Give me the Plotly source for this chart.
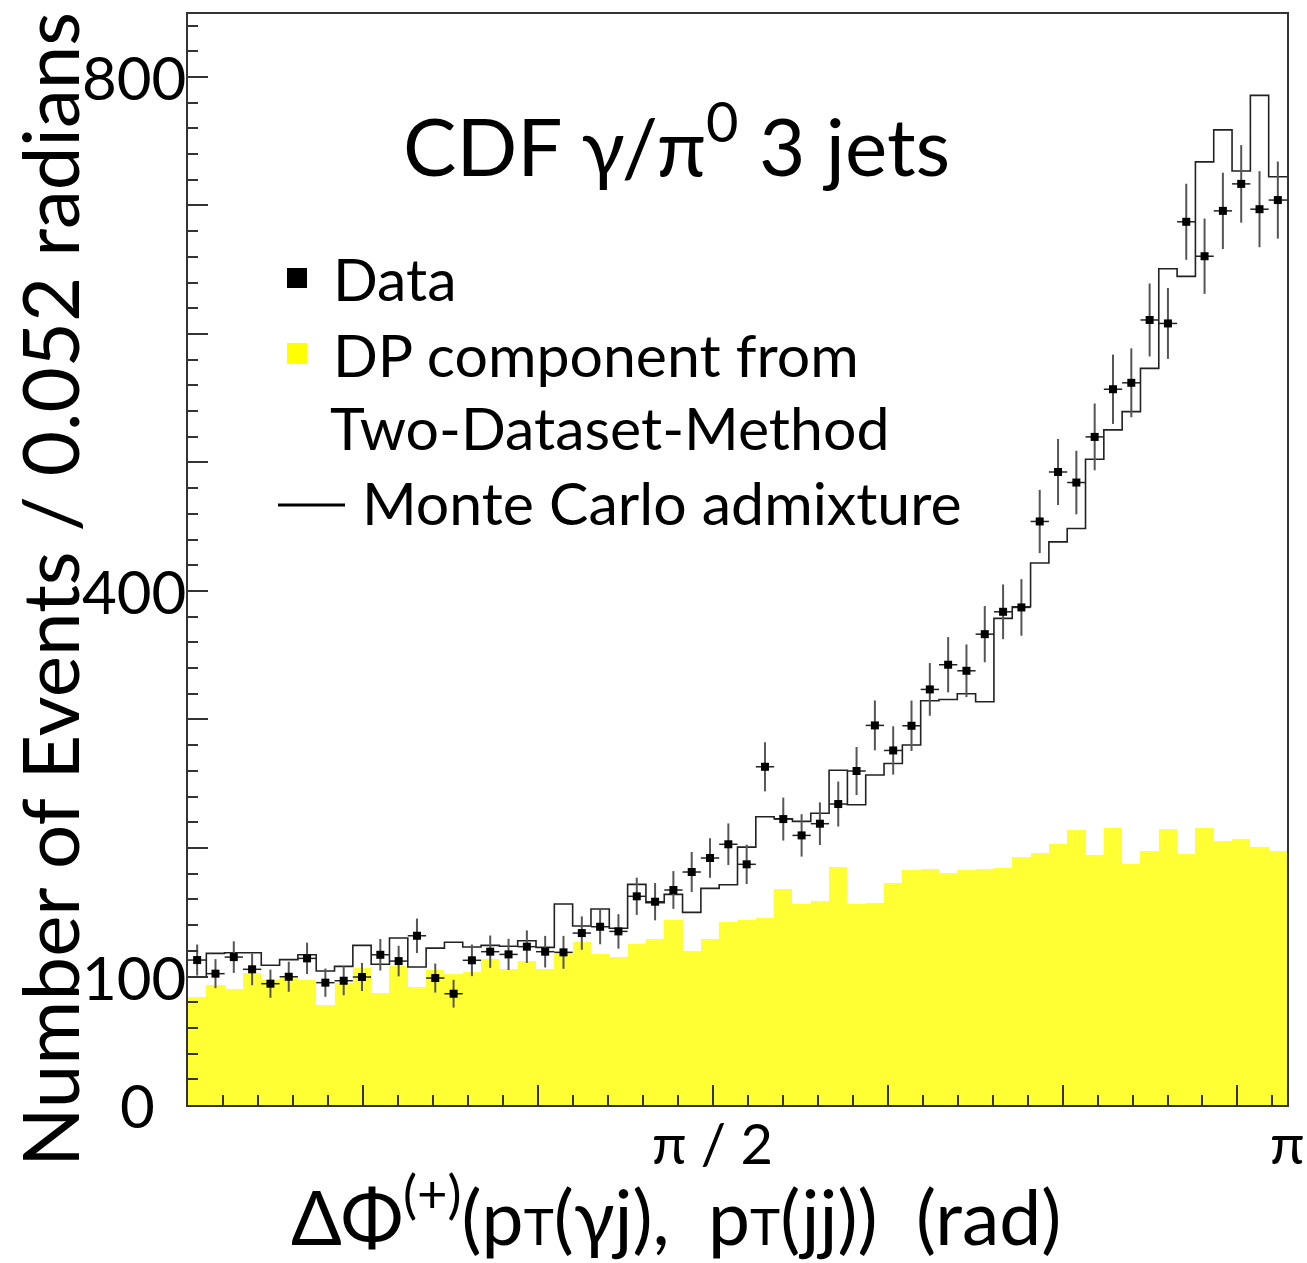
import numpy as np
import plotly.graph_objects as go

# ---------------- data ----------------
n_bins = 60
x_min, x_max = 0.0, np.pi

data_counts = [112.8, 102.2, 115.1, 105.6, 94.4, 99.8, 114.1, 95.2, 96.7, 99.6,
               116.9, 112.0, 131.7, 98.8, 86.6, 112.6, 119.3, 117.2, 123.2, 119.3,
               118.8, 133.8, 138.7, 135.1, 162.4, 158.2, 167.3, 181.3, 192.2, 202.9,
               187.3, 263.2, 222.5, 209.8, 218.9, 234.2, 259.9, 295.4, 275.9, 295.1,
               323.4, 342.6, 337.9, 366.4, 383.8, 387.2, 454.1, 492.6, 484.4, 519.9,
               557.0, 562.0, 610.9, 608.2, 687.3, 660.5, 695.8, 716.8, 697.1, 704.2]

data_errors = [12.1, 11.3, 12.3, 12.4, 11.0, 11.7, 12.2, 11.0, 11.3, 10.9,
               12.3, 11.9, 13.4, 11.3, 10.8, 12.3, 12.6, 12.1, 12.7, 12.3,
               12.8, 13.0, 13.6, 13.4, 14.5, 14.5, 14.7, 15.6, 15.4, 16.2,
               15.3, 19.1, 16.7, 16.5, 16.6, 17.5, 18.7, 19.4, 18.8, 19.6,
               20.5, 21.5, 20.5, 21.9, 21.3, 22.0, 24.6, 25.7, 24.7, 26.0,
               27.0, 26.8, 28.4, 27.6, 29.6, 29.3, 29.7, 30.2, 29.6, 30.0]

mc_counts = [99.5, 118.0, 118.5, 118.5, 108.7, 113.1, 116.9, 104.3, 107.9, 124.2,
             109.5, 129.9, 107.4, 122.1, 126.6, 122.9, 124.2, 123.5, 127.8, 122.7,
             156.4, 139.3, 152.5, 137.5, 171.7, 157.4, 163.9, 149.9, 168.6, 171.4,
             200.7, 224.3, 222.8, 220.7, 227.0, 260.5, 233.6, 256.8, 265.8, 280.1,
             314.6, 315.6, 320.0, 313.8, 378.7, 387.7, 421.8, 438.2, 448.6, 502.5,
             525.4, 539.6, 573.2, 650.8, 644.8, 733.9, 758.8, 726.8, 785.7, 722.3]

dp_counts = [83.8, 93.4, 90.0, 102.9, 97.0, 99.3, 97.3, 77.8, 94.7, 106.8,
             87.4, 108.1, 92.1, 105.0, 101.9, 103.5, 113.6, 105.8, 112.3, 105.6,
             118.5, 126.6, 117.5, 115.4, 125.5, 128.9, 144.2, 120.1, 129.2, 142.6,
             143.9, 145.5, 167.9, 156.6, 158.4, 185.6, 156.6, 157.5, 172.8, 183.0,
             183.7, 180.6, 182.9, 183.7, 184.5, 192.9, 196.0, 203.4, 214.2, 194.8,
             215.5, 187.8, 197.4, 214.8, 195.3, 215.5, 205.7, 207.0, 201.0, 197.9]

y_label_vals = [0, 100, 400, 800]
y_label_text = ["0", "100", "400", "800"]
x_label_vals = [1.5, np.pi]
x_label_text = ["\u03c0 / 2", "\u03c0"]

title_text = "CDF \u03b3/\u03c0<sup>0</sup> 3 jets"
x_title = ("\u0394\u03a6<sup>(+)</sup>(p<span style=\"font-size:51px\">T</span>(\u03b3j),  "
           "p<span style=\"font-size:51px\">T</span>(jj))  (rad)")
y_title = "Number of Events / 0.052 radians"
legend_texts = ["Data", "DP component from", "Two-Dataset-Method", "Monte Carlo admixture"]

# ---------------- derived binning ----------------
edges = np.linspace(x_min, x_max, n_bins + 1)
centers = 0.5 * (edges[:-1] + edges[1:])
bw = edges[1] - edges[0]

W, H = 1307, 1263
ML, MR, MT, MB = 188, 20, 14, 158
PW, PH = W - ML - MR, H - MT - MB
FONT = "Lato"


def px(xp):
    return (xp - ML) / PW


def py(yp):
    return (H - MB - yp) / PH


fig = go.Figure()

# DP component (yellow filled histogram)
fig.add_trace(go.Bar(x=centers, y=dp_counts, width=bw,
                     marker=dict(color="#ffff33", line=dict(width=0)),
                     showlegend=False))

# Monte Carlo admixture (step line)
fig.add_trace(go.Scatter(x=edges, y=list(mc_counts) + [mc_counts[-1]],
                         mode="lines", line=dict(shape="hv", color="#222222", width=1.6),
                         showlegend=False))

# Data points
fig.add_trace(go.Scatter(x=centers, y=data_counts, mode="markers",
                         marker=dict(symbol="square", size=8, color="black"),
                         error_y=dict(type="data", array=data_errors, visible=True,
                                      color="#555555", thickness=2, width=0),
                         error_x=dict(type="constant", value=bw / 2, visible=True,
                                      color="#222222", thickness=1.5, width=0),
                         showlegend=False))

annotations = []
for v, t in zip(y_label_vals, y_label_text):
    annotations.append(dict(x=0, xref="paper", y=v, yref="y", text=t, showarrow=False,
                            xanchor="right", yanchor="middle",
                            xshift=0 if t != "0" else -31,
                            font=dict(family=FONT, size=60, color="black")))
for v, t in zip(x_label_vals, x_label_text):
    annotations.append(dict(x=v, xref="x", y=0, yref="paper", text=t, showarrow=False,
                            xanchor="center", yanchor="middle", yshift=-37,
                            font=dict(family=FONT, size=56, color="black")))

# axis titles
annotations.append(dict(x=px(49), xref="paper", y=py(590), yref="paper", text=y_title,
                        textangle=-90, showarrow=False, xanchor="center", yanchor="middle",
                        font=dict(family=FONT, size=78, color="black")))
annotations.append(dict(x=px(676), xref="paper", y=py(1211), yref="paper", text=x_title,
                        showarrow=False, xanchor="center", yanchor="middle",
                        font=dict(family=FONT, size=75, color="black")))
# title
annotations.append(dict(x=px(676), xref="paper", y=py(140), yref="paper", text=title_text,
                        showarrow=False, xanchor="center", yanchor="middle",
                        font=dict(family=FONT, size=80, color="black")))
# legend text
leg_pos = [(331, 278), (331, 354), (328, 428), (360, 502)]
for (lx, ly), t in zip(leg_pos, legend_texts):
    annotations.append(dict(x=px(lx), xref="paper", y=py(ly), yref="paper", text=t,
                            showarrow=False, xanchor="left", yanchor="middle",
                            font=dict(family=FONT, size=59, color="black")))

shapes = [
    dict(type="rect", xref="paper", yref="paper", x0=px(287), x1=px(307), y0=py(288), y1=py(268),
         fillcolor="black", line=dict(width=0)),
    dict(type="rect", xref="paper", yref="paper", x0=px(287), x1=px(307), y0=py(364), y1=py(343),
         fillcolor="#ffff00", line=dict(width=0)),
    dict(type="line", xref="paper", yref="paper", x0=px(278), x1=px(345), y0=py(505), y1=py(505),
         line=dict(color="black", width=3)),
]

axis_common = dict(showgrid=False, zeroline=False, showline=True, mirror=True,
                   linecolor="#333333", linewidth=2, ticks="inside", ticklen=20,
                   tickcolor="#333333", tickwidth=1.5, showticklabels=False)

fig.update_layout(
    width=W, height=H,
    margin=dict(l=ML, r=MR, t=MT, b=MB),
    paper_bgcolor="white", plot_bgcolor="white",
    bargap=0, barmode="overlay",
    xaxis=dict(range=[x_min, x_max], tickmode="array",
               tickvals=[0, 0.5, 1.0, 1.5, 2.0, 2.5, 3.0],
               minor=dict(tickmode="linear", tick0=0, dtick=0.1, ticks="inside",
                          ticklen=10, tickcolor="#333333", tickwidth=1.5),
               **axis_common),
    yaxis=dict(range=[0, 849], tickmode="array", tickvals=list(range(0, 900, 100)),
               minor=dict(tickmode="linear", tick0=0, dtick=20, ticks="inside",
                          ticklen=10, tickcolor="#333333", tickwidth=1.5),
               **axis_common),
    annotations=annotations,
    shapes=shapes,
    showlegend=False,
)

fig.write_html("out.html")
